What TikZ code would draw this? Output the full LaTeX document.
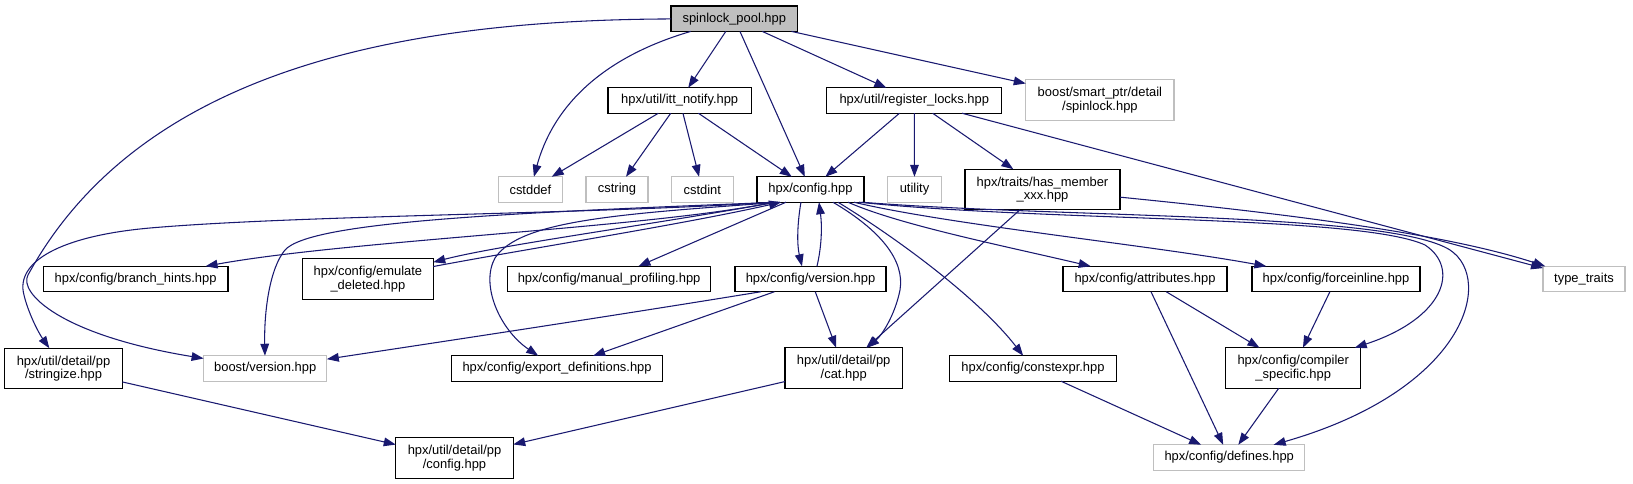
\documentclass[tikz,border=0pt]{standalone}
\usepackage{fontspec}
\setmainfont{Liberation Sans}
\usetikzlibrary{arrows.meta,calc}
\definecolor{edgeblue}{HTML}{191970}
\definecolor{extgray}{HTML}{BFBFBF}
\newcommand{\nodefnt}{\fontsize{9.7pt}{10.2pt}\selectfont}
\begin{document}
\begin{tikzpicture}[x=0.75pt,y=-0.75pt,
  box/.style={draw=black,line width=0.85pt,fill=white,inner sep=0pt,outer sep=0pt,font=\nodefnt,align=center,minimum height=19.1pt},
  tall/.style={minimum height=30.4pt},
  ext/.style={box,draw=extgray},
  root/.style={box,fill=extgray},
  e/.style={draw=edgeblue,line width=0.8pt,-{Triangle[length=9pt,width=6.5pt]}}]
\useasboundingbox (0,0) rectangle (1633,484);
% nodes
\node[root,minimum width=94.9pt] (spin) at (734.3,18.7) {spinlock\_pool.hpp};
\node[box,minimum width=107.6pt] (itt) at (679.7,100.5) {hpx/util/itt\_notify.hpp};
\node[box,minimum width=131.3pt] (reg) at (914.3,100.5) {hpx/util/register\_locks.hpp};
\node[ext,tall,minimum width=111.2pt] (smart) at (1099.9,100) {boost/smart\_ptr/detail\\/spinlock.hpp};
\node[ext,minimum width=48.2pt] (cstddef) at (530.4,189.5) {cstddef};
\node[ext,minimum width=46.5pt] (cstring) at (617,189.5) {cstring};
\node[ext,minimum width=46.4pt] (cstdint) at (702.3,189.5) {cstdint};
\node[box,minimum width=80.3pt] (config) at (810.5,189.5) {hpx/config.hpp};
\node[ext,minimum width=40.5pt] (utility) at (914.5,189.5) {utility};
\node[box,tall,minimum width=116.3pt] (hasm) at (1042.5,189.5) {hpx/traits/has\_member\\\_xxx.hpp};
\node[box,minimum width=138.5pt] (branch) at (135.6,279) {hpx/config/branch\_hints.hpp};
\node[box,tall,minimum width=98pt] (emul) at (367.9,279) {hpx/config/emulate\\\_deleted.hpp};
\node[box,minimum width=152.4pt] (manual) at (609.1,279) {hpx/config/manual\_profiling.hpp};
\node[box,minimum width=113.3pt] (version) at (810.5,279) {hpx/config/version.hpp};
\node[box,minimum width=123pt] (attr) at (1145,279) {hpx/config/attributes.hpp};
\node[box,minimum width=126pt] (force) at (1336,279) {hpx/config/forceinline.hpp};
\node[ext,minimum width=61.5pt] (ttraits) at (1584,279) {type\_traits};
\node[box,tall,minimum width=88.5pt] (stringize) at (63.5,368.5) {hpx/util/detail/pp\\/stringize.hpp};
\node[ext,minimum width=92.4pt] (bver) at (265.2,368.5) {boost/version.hpp};
\node[box,minimum width=158pt] (export) at (557.1,368.5) {hpx/config/export\_definitions.hpp};
\node[box,tall,minimum width=88.1pt] (cat) at (843.7,368) {hpx/util/detail/pp\\/cat.hpp};
\node[box,minimum width=125.6pt] (cexpr) at (1033,368.5) {hpx/config/constexpr.hpp};
\node[box,tall,minimum width=101.3pt] (compiler) at (1293.2,368) {hpx/config/compiler\\\_specific.hpp};
\node[box,tall,minimum width=88.1pt] (ppconfig) at (454.5,458) {hpx/util/detail/pp\\/config.hpp};
\node[ext,minimum width=113.3pt] (defines) at (1229.2,457.5) {hpx/config/defines.hpp};
% edges from spinlock_pool.hpp
\draw[e] (spin) .. controls (610,55) and (555,100) .. (cstddef);
\draw[e] (spin) -- (itt);
\draw[e] (spin) -- (config);
\draw[e] (spin) -- (reg);
\draw[e] (spin) -- (smart);
\draw[e] (spin) .. controls (400,20) and (140,70) .. (28,275) .. controls (18.4,292.6) and (60,335) .. (bver);
% itt_notify
\draw[e] (itt) -- (cstddef);
\draw[e] (itt) -- (cstring);
\draw[e] (itt) -- (cstdint);
\draw[e] (itt) -- (config);
% register_locks
\draw[e] (reg) -- (config);
\draw[e] (reg) -- (utility);
\draw[e] (reg) -- (hasm);
\draw[e] (reg) -- (ttraits);
% has_member_xxx
\draw[e] (hasm) .. controls (1300,215) and (1450,235) .. (ttraits);
\draw[e] (hasm) -- (cat);
% config.hpp fan-out
\draw[e] ($(config.south west)+(15,0)$) .. controls (600,214) and (300,215) .. (150,228) .. controls (60,236) and (15,262) .. (24,295) .. controls (28,312) and (38,332) .. (stringize);
\draw[e] ($(config.south west)+(17,0)$) .. controls (650,228) and (350,240) .. (branch);
\draw[e] ($(config.south west)+(19,0)$) .. controls (650,225) and (500,245) .. (emul);
\draw[e] (emul) .. controls (520,250) and (680,225) .. ($(config.south west)+(24,0)$);
\draw[e] ($(config.south west)+(21,0)$) .. controls (500,213) and (310,222) .. (285,250) .. controls (270,268) and (264,310) .. (bver);
\draw[e] ($(config.south west)+(23,0)$) .. controls (620,214) and (520,220) .. (495,258) .. controls (480,285) and (500,330) .. (export);
\draw[e] ($(config.south west)+(29,0)$) -- (manual);
\draw[e] ($(config.south west)+(44,0)$) .. controls (797,225) and (797,245) .. ($(version.north west)+(67,0)$);
\draw[e] ($(version.north west)+(82,0)$) .. controls (822,245) and (822,225) .. ($(config.south west)+(62,0)$);
\draw[e] ($(config.south west)+(76,0)$) .. controls (880,230) and (905,260) .. (900,290) .. controls (895,315) and (882,335) .. (cat);
\draw[e] ($(config.south west)+(81,0)$) .. controls (900,240) and (980,300) .. (cexpr);
\draw[e] ($(config.south west)+(91,0)$) .. controls (900,225) and (1000,245) .. (attr);
\draw[e] ($(config.south west)+(97,0)$) .. controls (950,225) and (1150,245) .. (force);
\draw[e] ($(config.south west)+(102,0)$) .. controls (1050,222) and (1360,215) .. (1425,245) .. controls (1460,268) and (1445,318) .. (compiler);
\draw[e] ($(config.south west)+(105,0)$) .. controls (1060,218) and (1390,212) .. (1450,250) .. controls (1495,280) and (1465,390) .. (defines);
% version.hpp
\draw[e] ($(version.south west)+(26,0)$) .. controls (600,318) and (420,345) .. (bver);
\draw[e] (version) -- (export);
\draw[e] (version) -- (cat);
% lower level
\draw[e] (attr) -- (compiler);
\draw[e] (attr) -- (defines);
\draw[e] (force) -- (compiler);
\draw[e] (compiler) -- (defines);
\draw[e] (cexpr) -- (defines);
\draw[e] (stringize) -- (ppconfig);
\draw[e] (cat) -- (ppconfig);
\end{tikzpicture}
\end{document}
